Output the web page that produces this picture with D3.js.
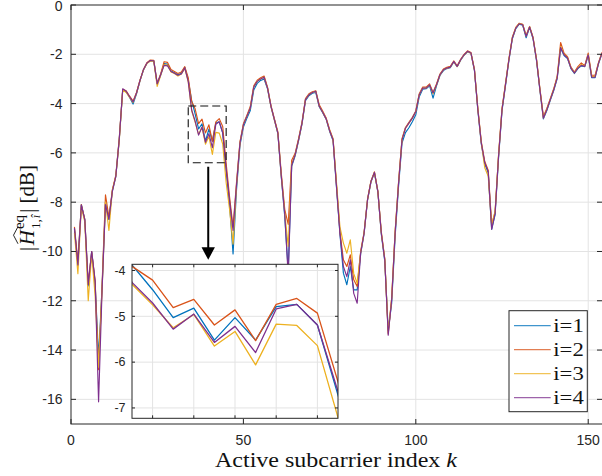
<!DOCTYPE html>
<html>
<head>
<meta charset="utf-8">
<script src="https://cdn.jsdelivr.net/npm/d3@7"></script>
<style>
  html, body { margin: 0; padding: 0; background: #fff; }
  svg { display: block; }
</style>
</head>
<body>
<svg id="chart" width="602" height="476"></svg>
<script>
// ---------------- data ----------------
const seriesNames = ["i=1", "i=2", "i=3", "i=4"];
const seriesColors = ["#0072BD", "#D95319", "#EDB120", "#7E2F8E"];

const h1 = [-9.1,-10.5,-8.1,-8.7,-11.4,-10.0,-11.3,-14.3,-11.5,-8.0,-8.7,-7.55,-6.95,-5.45,-3.45,-3.52,-3.75,-4.02,-3.6,-3.08,
-2.64,-2.37,-2.26,-2.27,-3.2,-2.84,-2.38,-2.4,-2.68,-2.75,-2.83,-2.77,-2.53,-3.05,-3.88,-4.42,-5.03,-4.82,-5.52,-5.03,
-5.52,-4.79,-4.74,-5.19,-6.72,-8.1,-10.1,-7.5,-5.7,-4.95,-4.6,-4.28,-3.45,-3.18,-3.06,-3.0,-3.4,-4.12,-4.66,-5.22,
-7.0,-8.6,-10.8,-6.55,-6.12,-5.5,-4.82,-3.88,-3.68,-3.58,-3.55,-4.13,-4.37,-4.63,-5.12,-5.5,-7.4,-9.3,-10.88,-11.35,
-10.61,-11.56,-11.56,-10.1,-9.28,-7.92,-7.18,-6.8,-7.58,-9.3,-10.4,-13.2,-12.1,-9.4,-7.35,-5.6,-5.18,-4.98,-4.74,-4.45,
-3.72,-3.42,-3.4,-3.28,-3.78,-3.28,-2.86,-2.66,-2.58,-2.54,-2.31,-2.5,-2.24,-2.04,-1.9,-1.96,-2.65,-4.28,-5.65,-6.45,
-6.8,-9.1,-8.5,-6.2,-4.3,-3.28,-2.25,-1.37,-0.96,-0.78,-0.82,-1.33,-0.91,-1.37,-2.25,-3.47,-4.62,-4.28,-3.87,-3.47,
-2.99,-1.75,-2.05,-2.17,-2.58,-2.78,-2.58,-2.47,-2.5,-2.04,-2.95,-2.95,-2.38,-1.97];

const h2 = [-9.0,-10.4,-8.1,-8.7,-11.3,-10.0,-11.2,-14.8,-11.4,-7.7,-8.6,-7.5,-6.9,-5.4,-3.42,-3.48,-3.7,-3.9,-3.55,-3.05,
-2.62,-2.34,-2.23,-2.24,-3.17,-2.8,-2.3,-2.33,-2.62,-2.7,-2.78,-2.72,-2.5,-2.95,-3.91,-4.21,-4.81,-4.63,-5.19,-4.86,
-5.53,-4.74,-4.61,-4.93,-6.43,-7.8,-9.0,-7.2,-5.55,-4.82,-4.48,-4.12,-3.28,-3.05,-2.95,-2.88,-3.33,-4.08,-4.62,-5.15,
-6.85,-8.3,-8.9,-6.3,-6.02,-5.42,-4.75,-3.8,-3.6,-3.52,-3.48,-4.05,-4.3,-4.58,-5.05,-5.42,-7.3,-9.2,-10.34,-10.61,
-10.14,-11.15,-11.42,-10.0,-9.22,-7.88,-7.14,-6.77,-7.55,-9.2,-10.3,-13.35,-11.9,-9.2,-7.18,-5.42,-4.97,-4.76,-4.56,-4.3,
-3.6,-3.33,-3.33,-3.2,-3.55,-3.2,-2.8,-2.6,-2.53,-2.49,-2.27,-2.47,-2.2,-2.0,-1.86,-1.93,-2.6,-4.2,-5.55,-6.35,
-6.7,-8.9,-8.4,-6.08,-4.2,-3.2,-2.18,-1.31,-0.91,-0.74,-0.78,-1.24,-0.87,-1.31,-2.18,-3.4,-4.52,-4.2,-3.8,-3.4,
-2.9,-1.52,-1.95,-2.1,-2.52,-2.72,-2.5,-2.35,-2.46,-1.95,-2.85,-2.85,-2.33,-1.92];

const h3 = [-9.25,-10.9,-8.2,-8.8,-12.0,-10.1,-11.8,-14.7,-11.6,-8.0,-9.15,-7.5,-6.95,-5.5,-3.45,-3.55,-3.75,-3.95,-3.58,-3.08,
-2.64,-2.38,-2.27,-2.28,-3.3,-2.86,-2.42,-2.44,-2.72,-2.78,-2.88,-2.8,-2.57,-3.12,-4.3,-4.75,-5.25,-4.96,-5.65,-5.33,
-6.06,-5.17,-5.2,-5.64,-7.21,-8.3,-9.7,-7.35,-5.6,-4.86,-4.52,-4.18,-3.33,-3.1,-3.0,-2.93,-3.37,-4.12,-4.68,-5.2,
-6.96,-8.45,-9.8,-6.45,-6.08,-5.47,-4.8,-3.84,-3.64,-3.55,-3.5,-4.11,-4.35,-4.62,-5.1,-5.45,-7.2,-9.0,-9.66,-10.07,
-9.53,-10.9,-11.29,-10.05,-9.25,-7.9,-7.16,-6.79,-7.57,-9.26,-10.3,-13.3,-11.9,-9.2,-7.2,-5.45,-5.0,-4.79,-4.59,-4.32,
-3.64,-3.37,-3.37,-3.24,-3.6,-3.25,-2.84,-2.63,-2.57,-2.52,-2.3,-2.5,-2.23,-2.03,-1.89,-1.96,-2.62,-4.22,-5.6,-6.6,
-6.95,-8.95,-8.35,-6.1,-4.22,-3.22,-2.2,-1.33,-0.93,-0.75,-0.79,-1.26,-0.88,-1.33,-2.2,-3.42,-4.58,-4.23,-3.83,-3.42,
-2.93,-1.68,-2.0,-2.13,-2.55,-2.75,-2.55,-2.42,-2.48,-2.0,-2.9,-2.9,-2.36,-1.95];

const h4 = [-9.05,-10.55,-8.12,-8.72,-11.35,-10.0,-11.2,-16.1,-11.6,-8.1,-8.7,-7.55,-6.95,-5.45,-3.4,-3.5,-3.72,-3.93,-3.57,-3.07,
-2.63,-2.36,-2.25,-2.26,-3.2,-2.83,-2.45,-2.47,-2.7,-2.77,-2.85,-2.8,-2.55,-3.1,-4.26,-4.71,-5.28,-4.95,-5.57,-5.22,
-5.79,-4.84,-4.74,-5.19,-6.64,-7.95,-9.15,-7.3,-5.6,-4.86,-4.52,-4.18,-3.33,-3.1,-3.0,-2.93,-3.37,-4.11,-4.66,-5.2,
-6.96,-8.5,-11.0,-6.5,-6.08,-5.47,-4.79,-3.84,-3.64,-3.55,-3.5,-4.11,-4.35,-4.62,-5.1,-5.47,-7.36,-9.26,-10.61,-11.02,
-10.34,-11.7,-12.1,-10.07,-9.26,-7.9,-7.16,-6.79,-7.57,-9.26,-10.34,-13.4,-11.96,-9.26,-7.23,-5.47,-5.0,-4.79,-4.59,-4.32,
-3.64,-3.37,-3.37,-3.24,-3.57,-3.24,-2.83,-2.63,-2.56,-2.52,-2.29,-2.49,-2.22,-2.02,-1.88,-1.95,-2.63,-4.25,-5.6,-6.4,
-6.75,-9.1,-8.45,-6.14,-4.25,-3.24,-2.22,-1.34,-0.94,-0.76,-0.8,-1.27,-0.89,-1.34,-2.22,-3.44,-4.59,-4.25,-3.84,-3.44,
-2.96,-1.72,-2.02,-2.15,-2.56,-2.76,-2.56,-2.45,-2.49,-2.02,-2.93,-2.93,-2.36,-1.95];

const seriesValues = [h1, h2, h3, h4];

const xTicks = [0, 50, 100, 150];
const yTicks = [0, -2, -4, -6, -8, -10, -12, -14, -16];
const insetXTicks = [36, 38, 40, 42, 44];
const insetYTicks = [-4, -5, -6, -7];
const zoomWindow = { x0: 34, x1: 45, y0: -6.4, y1: -4.1 };

// ---------------- layout ----------------
const svg = d3.select("#chart");
const M = { left: 71, right: 602, top: 5, bottom: 424 };
const x = d3.scaleLinear().domain([0, 154]).range([M.left, M.right]);
const y = d3.scaleLinear().domain([-17, 0]).range([M.bottom, M.top]);

const axisColor = "#262626";
const gridColor = "#e3e3e3";
const sansFont = "'Liberation Sans', Arial, Helvetica, sans-serif";
const serifFont = "'Liberation Serif', 'Times New Roman', serif";

const defs = svg.append("defs");
defs.append("clipPath").attr("id", "clipMain").append("rect")
  .attr("x", M.left).attr("y", M.top).attr("width", M.right - M.left).attr("height", M.bottom - M.top);

// grid
const g = svg.append("g");
g.selectAll("line.gx").data(xTicks.filter(d => d > 0)).enter().append("line")
  .attr("x1", d => x(d)).attr("x2", d => x(d)).attr("y1", M.top).attr("y2", M.bottom)
  .attr("stroke", gridColor).attr("stroke-width", 1);
g.selectAll("line.gy").data(yTicks.filter(d => d < 0)).enter().append("line")
  .attr("y1", d => y(d)).attr("y2", d => y(d)).attr("x1", M.left).attr("x2", M.right)
  .attr("stroke", gridColor).attr("stroke-width", 1);

// lines
const line = d3.line().x((d, i) => x(i + 1)).y(d => y(d));
const lines = svg.append("g").attr("clip-path", "url(#clipMain)");
seriesValues.forEach((vals, k) => {
  lines.append("path").datum(vals).attr("d", line)
    .attr("fill", "none").attr("stroke", seriesColors[k]).attr("stroke-width", 1.15)
    .attr("stroke-linejoin", "round");
});

// axes (box with inward ticks)
const axG = svg.append("g").attr("font-family", sansFont).attr("font-size", 14).attr("fill", axisColor);
axG.append("rect").attr("x", M.left).attr("y", M.top).attr("width", M.right - M.left + 1).attr("height", M.bottom - M.top)
  .attr("fill", "none").attr("stroke", axisColor).attr("stroke-width", 1);
const tl = 5;
xTicks.forEach(t => {
  axG.append("line").attr("x1", x(t)).attr("x2", x(t)).attr("y1", M.bottom).attr("y2", M.bottom - tl).attr("stroke", axisColor);
  axG.append("line").attr("x1", x(t)).attr("x2", x(t)).attr("y1", M.top).attr("y2", M.top + tl).attr("stroke", axisColor);
  axG.append("text").attr("x", x(t)).attr("y", M.bottom + 21).attr("text-anchor", "middle").text(t);
});
yTicks.forEach(t => {
  axG.append("line").attr("x1", M.left).attr("x2", M.left + tl).attr("y1", y(t)).attr("y2", y(t)).attr("stroke", axisColor);
  axG.append("line").attr("x1", M.right + 0.5).attr("x2", M.right - tl).attr("y1", y(t)).attr("y2", y(t)).attr("stroke", axisColor);
  axG.append("text").attr("x", M.left - 8.5).attr("y", Math.max(y(t) + 5, 11)).attr("text-anchor", "end").text(t);
});

// x label
svg.append("text").attr("x", 336).attr("y", 467)
  .attr("text-anchor", "middle").attr("font-family", serifFont).attr("font-size", 21).attr("fill", "#111")
  .attr("textLength", 242).attr("lengthAdjust", "spacingAndGlyphs")
  .call(t => { t.append("tspan").text("Active subcarrier index "); t.append("tspan").attr("font-style", "italic").text("k"); });

// y label (rotated, built piece by piece)
const yl = svg.append("g").attr("transform", "translate(34,208) rotate(-90)")
  .attr("font-family", serifFont).attr("fill", "#111");
const fs = 21;
let cx = 0;
function piece(txt, size, dy, italic) {
  return yl.append("text").attr("x", cx).attr("y", dy).attr("font-size", size)
    .attr("font-style", italic ? "italic" : "normal").text(txt);
}
const p1 = piece("|", fs, 0); cx += p1.node().getComputedTextLength() + 1.5;
const pH = piece("H", fs, 0, true); const hStart = cx; const hW = pH.node().getComputedTextLength(); cx += hW + 1;
const sup = piece("eq", fs * 0.72, -10); const sub = piece("1,", fs * 0.62, 5.5);
const subI = yl.append("text").attr("y", 5.5).attr("font-size", fs * 0.62).attr("font-style", "italic").text("î");
subI.attr("x", cx + sub.node().getComputedTextLength() + 1);
const supW = sup.node().getComputedTextLength();
const subW = sub.node().getComputedTextLength() + 1 + subI.node().getComputedTextLength();
cx += Math.max(supW, subW) + 2;
const p2 = piece("|", fs, 0); cx += p2.node().getComputedTextLength() + 5;
const p3 = piece("[dB]", fs, 0); cx += p3.node().getComputedTextLength();
// wide hat over H
yl.append("path")
  .attr("d", `M${hStart + 1.5},-16 L${hStart + hW / 2 + 2.5},-20.5 L${hStart + hW + 3.5},-16`)
  .attr("fill", "none").attr("stroke", "#111").attr("stroke-width", 0.9);
// center
yl.selectAll("*").attr("transform", `translate(${-cx / 2},0)`);

// zoom box annotation
svg.append("rect")
  .attr("x", x(zoomWindow.x0)).attr("y", y(zoomWindow.y1))
  .attr("width", x(zoomWindow.x1) - x(zoomWindow.x0)).attr("height", y(zoomWindow.y0) - y(zoomWindow.y1))
  .attr("fill", "none").attr("stroke", "#111").attr("stroke-width", 1.1).attr("stroke-dasharray", "8,4");

// ---------------- inset ----------------
const I = { left: 132, right: 338, top: 264.3, bottom: 418.3 };
const xi = d3.scaleLinear().domain([35, 45]).range([I.left, I.right]);
const yi = d3.scaleLinear().domain([-7.226, -3.865]).range([I.bottom, I.top]);
defs.append("clipPath").attr("id", "clipInset").append("rect")
  .attr("x", I.left).attr("y", I.top).attr("width", I.right - I.left).attr("height", I.bottom - I.top);

// arrow
const ax = x(39.8);
svg.append("line").attr("x1", ax).attr("x2", ax).attr("y1", y(zoomWindow.y0) + 4).attr("y2", I.top - 14)
  .attr("stroke", "#000").attr("stroke-width", 2);
svg.append("path").attr("d", `M${ax - 6.7},${I.top - 17} L${ax + 6.7},${I.top - 17} L${ax},${I.top - 4.5} Z`).attr("fill", "#000");

const ig = svg.append("g");
ig.append("rect").attr("x", I.left).attr("y", I.top).attr("width", I.right - I.left).attr("height", I.bottom - I.top).attr("fill", "#fff");
insetXTicks.forEach(t => ig.append("line").attr("x1", xi(t)).attr("x2", xi(t)).attr("y1", I.top).attr("y2", I.bottom).attr("stroke", gridColor));
insetYTicks.forEach(t => ig.append("line").attr("y1", yi(t)).attr("y2", yi(t)).attr("x1", I.left).attr("x2", I.right).attr("stroke", gridColor));
const il = d3.line().x((d, i) => xi(i + 1)).y(d => yi(d));
const ilines = ig.append("g").attr("clip-path", "url(#clipInset)");
seriesValues.forEach((vals, k) => {
  ilines.append("path").datum(vals).attr("d", il)
    .attr("fill", "none").attr("stroke", seriesColors[k]).attr("stroke-width", 1.3).attr("stroke-linejoin", "round");
});
ig.append("rect").attr("x", I.left).attr("y", I.top).attr("width", I.right - I.left).attr("height", I.bottom - I.top)
  .attr("fill", "none").attr("stroke", axisColor).attr("stroke-width", 1);
const itl = 3;
insetXTicks.forEach(t => {
  ig.append("line").attr("x1", xi(t)).attr("x2", xi(t)).attr("y1", I.bottom).attr("y2", I.bottom - itl).attr("stroke", axisColor);
  ig.append("line").attr("x1", xi(t)).attr("x2", xi(t)).attr("y1", I.top).attr("y2", I.top + itl).attr("stroke", axisColor);
});
insetYTicks.forEach(t => {
  ig.append("line").attr("x1", I.left).attr("x2", I.left + itl).attr("y1", yi(t)).attr("y2", yi(t)).attr("stroke", axisColor);
  ig.append("line").attr("x1", I.right).attr("x2", I.right - itl).attr("y1", yi(t)).attr("y2", yi(t)).attr("stroke", axisColor);
  ig.append("text").attr("x", I.left - 6.5).attr("y", yi(t) + 4.3).attr("text-anchor", "end")
    .attr("font-family", sansFont).attr("font-size", 12.5).attr("fill", axisColor).text(t);
});

// ---------------- legend ----------------
const L = { x: 509, y: 310.7, w: 78.3, h: 101 };
const lg = svg.append("g");
lg.append("rect").attr("x", L.x).attr("y", L.y).attr("width", L.w).attr("height", L.h)
  .attr("fill", "#fff").attr("stroke", axisColor).attr("stroke-width", 1);
seriesNames.forEach((n, k) => {
  const yy = L.y + 15 + k * 24;
  lg.append("line").attr("x1", L.x + 5).attr("x2", L.x + 41.7).attr("y1", yy).attr("y2", yy)
    .attr("stroke", seriesColors[k]).attr("stroke-width", 1.2).attr("opacity", 0.75);
  lg.append("text").attr("x", L.x + 44.3).attr("y", yy + 6).attr("font-family", serifFont).attr("font-size", 19)
    .attr("fill", "#111").attr("textLength", 30.5).attr("lengthAdjust", "spacingAndGlyphs").text(n);
});
</script>
</body>
</html>
